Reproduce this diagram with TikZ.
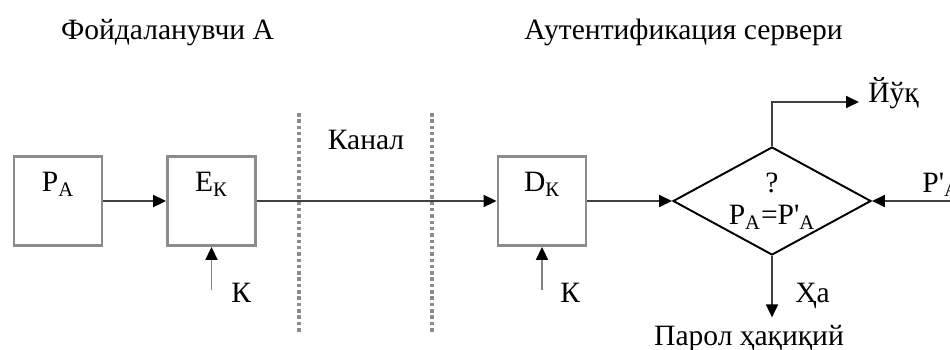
\documentclass[tikz,border=0pt]{standalone}
\usepackage{fontspec}
\setmainfont{Liberation Serif}
\usetikzlibrary{arrows.meta,shapes.geometric,positioning}
\newcommand{\boxcolor}{black!45}
\newcommand{\linecolor}{black!75}
\newcommand{\linew}{1.1pt}

\begin{document}
\begin{tikzpicture}[font=\fontsize{16.8}{18.7}\selectfont,
  arr/.style={draw=\linecolor, line width=\linew, -{Triangle[length=7.4pt,width=6.8pt,color=black]}},
  karr/.style={arr, draw=black!50},
  block/.style={draw=\boxcolor, line width=1.6pt, minimum width=1.76cm, text height=0.7cm, text depth=1.08cm, inner sep=0pt},
  cmp/.style={diamond, draw=black, line width=\linew, aspect=1.83, minimum width=3.96cm, minimum height=2.16cm, inner sep=0pt, align=center},
  sepline/.style={draw=black!45, line width=1.8pt, dash pattern=on 2pt off 1.6pt}]
\useasboundingbox (0,0) rectangle (19,-6.98);
\node[anchor=base] (usr) at (3.35,-0.78) {Фойдаланувчи А};
\node[anchor=base] (srv) at (13.67,-0.78) {Аутентификация сервери};
\node[block] (pa) at (1.16,-4.02) {P\textsubscript{A}};
\node[block] (ek) at (4.23,-4.02) {E\textsubscript{К}};
\node[block] (dk) at (10.84,-4.02) {D\textsubscript{К}};
\node[cmp] (cmp) at (15.44,-4.02) {?\\P\textsubscript{A}=P\textquotesingle\textsubscript{A}};
\node[anchor=base] (kanal) at (7.32,-2.98) {Канал};
\node[anchor=base west, inner xsep=0.18cm, inner ysep=0pt] (yuq) at (17.18,-2.04) {Йўқ};
\node[anchor=base west, inner sep=0pt] (pin) at (18.44,-3.84) {P\textquotesingle\textsubscript{A}};
\node[anchor=base, inner ysep=4pt] (parol) at (14.98,-6.9) {Парол ҳақиқий};
\node[anchor=base west, inner sep=0pt] (ha) at (15.9,-6.04) {Ҳа};
\node[anchor=base west, inner sep=0pt] (ke) at (4.62,-6.04) {К};
\node[anchor=base west, inner sep=0pt] (kd) at (11.2,-6.04) {К};
\coordinate (kesrc) at (4.23,-5.8);
\coordinate (kdsrc) at (10.84,-5.8);
\coordinate (pinsrc) at (19.2,-4.02);
% channel borders
\draw[sepline] (5.98,-2.26) -- (5.98,-6.66);
\draw[sepline] (8.64,-2.26) -- (8.64,-6.66);
% data path
\draw[arr] (pa) -- (ek);
\draw[arr] (ek) -- (dk);
\draw[arr] (dk) -- (cmp);
\draw[arr] (pinsrc) -- (cmp);
\draw[arr] (cmp.north) |- (yuq.base west);
\draw[arr] (cmp.south) -- (cmp.south |- parol.north);
% keys
\draw[karr] (kesrc) -- (ek.south);
\draw[karr] (kdsrc) -- (dk.south);
\end{tikzpicture}
\end{document}
